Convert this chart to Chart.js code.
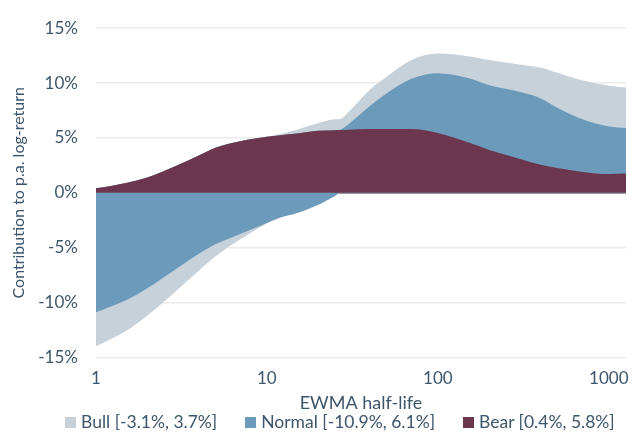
<!DOCTYPE html>
<html>
<head>
<meta charset="utf-8">
<script src="https://cdn.jsdelivr.net/npm/chart.js@4"></script>
<style>
  html, body { margin: 0; padding: 0; background: #fff; }
  #wrap { width: 632px; height: 412px; }
  #legend { width: 632px; height: 20px; display: flex; gap: 28px; padding-left: 65px; box-sizing: border-box;
            font: 17.5px Lato; line-height: 20px; color: #3d566b; white-space: nowrap; }
  #legend .item { display: flex; align-items: center; }
  #legend .box { width: 11px; height: 11px; margin-right: 5px; }
</style>
</head>
<body>
<div id="wrap"><canvas id="contribChart"></canvas></div>
<div id="legend"></div>
<script>
// EWMA half-life and contribution (in % p.a.) per regime
const halfLives = [1, 1.5, 2, 3, 4, 5, 7, 10, 12, 15, 20, 25, 27, 30, 40, 50, 70, 100, 150, 200, 300, 400, 500, 700, 1000, 1260];
const bull   = [-3.1, -2.8, -2.5, -2.0, -1.55, -1.1, -0.5, -0.05, 0.1, 0.35, 0.7, 1.0, 0.95, 1.1, 1.5, 1.5, 1.7, 1.8, 2.0, 2.3, 2.5, 2.8, 3.2, 3.55, 3.7, 3.7];
const normal = [-10.9, -9.8, -8.7, -6.85, -5.55, -4.7, -3.75, -2.75, -2.25, -1.85, -1.1, -0.3, 0.05, 0.5, 2.1, 3.25, 4.6, 5.45, 5.85, 5.9, 6.1, 6.05, 5.5, 4.8, 4.35, 4.15];
const bear   = [0.4, 0.9, 1.4, 2.5, 3.4, 4.1, 4.7, 5.1, 5.25, 5.4, 5.65, 5.7, 5.72, 5.75, 5.8, 5.8, 5.8, 5.45, 4.6, 3.9, 3.1, 2.55, 2.25, 1.9, 1.7, 1.75];
const xTicks = [1, 10, 100, 1000];

const colors = { bull: "#c6d1da", normal: "#6c9aba", bear: "#6c374e" };
const textColor = "#3d566b";

// positive and negative parts are stacked separately
const pos = v => Math.max(v, 0);
const neg = v => Math.min(v, 0);
const toPoints = fn => halfLives.map((x, i) => ({ x: x, y: fn(i) }));

const posBull   = toPoints(i => bear[i] + pos(normal[i]) + pos(bull[i]));
const posNormal = toPoints(i => bear[i] + pos(normal[i]));
const bearPts   = toPoints(i => bear[i]);
const negNormal = toPoints(i => neg(normal[i]));
const negBull   = toPoints(i => neg(normal[i]) + neg(bull[i]));

function area(data, color, order) {
    return {
        data: data,
        backgroundColor: color,
        borderColor: color,
        borderWidth: 0,
        pointRadius: 0,
        fill: "origin",
        order: order,
        cubicInterpolationMode: "monotone"
    };
}

function rangeLabel(name, arr) {
    return `${name} [${Math.min(...arr).toFixed(1)}%, ${Math.max(...arr).toFixed(1)}%]`;
}

// legend below the canvas
const legendItems = [["Bull", bull, colors.bull], ["Normal", normal, colors.normal], ["Bear", bear, colors.bear]];
document.getElementById("legend").innerHTML = legendItems.map(([name, arr, color]) =>
    `<span class="item"><span class="box" style="background:${color}"></span>${rangeLabel(name, arr)}</span>`
).join("");

Chart.defaults.font.family = "Lato";
Chart.defaults.font.size = 17;
Chart.defaults.color = textColor;

new Chart(document.getElementById("contribChart"), {
    type: "line",
    data: {
        datasets: [
            area(bearPts, colors.bear, 0),
            area(posNormal, colors.normal, 1),
            area(posBull, colors.bull, 2),
            area(negNormal, colors.normal, 3),
            area(negBull, colors.bull, 4)
        ]
    },
    options: {
        responsive: true,
        maintainAspectRatio: false,
        animation: false,
        layout: { padding: { top: 15, right: 6, left: 9, bottom: 0 } },
        scales: {
            x: {
                type: "logarithmic",
                min: 1,
                max: 1260,
                afterBuildTicks: axis => { axis.ticks = xTicks.map(v => ({ value: v })); },
                // let the "1000" label hang over the right edge like the original
                afterFit: axis => { axis.paddingRight = 0; },
                ticks: { callback: v => String(v), maxRotation: 0, padding: 12, font: { size: 17, lineHeight: 1.1 } },
                grid: { display: false, drawTicks: false },
                border: { display: false },
                title: { display: true, text: "EWMA half-life", font: { size: 18, lineHeight: 1 }, padding: { top: -6, bottom: 0 } }
            },
            y: {
                min: -15,
                max: 15,
                ticks: { stepSize: 5, callback: v => v + "%", padding: 18 },
                grid: {
                    color: ctx => ctx.tick.value === 0 ? "#9b9b9b" : "#ebebeb",
                    lineWidth: ctx => ctx.tick.value === 0 ? 2 : 1.5,
                    drawTicks: false
                },
                border: { display: false },
                title: { display: true, text: "Contribution to p.a. log-return", font: { size: 16 }, padding: { top: 0, bottom: -8 } }
            }
        },
        plugins: {
            tooltip: { enabled: false },
            legend: { display: false }
        }
    }
});
</script>
</body>
</html>
